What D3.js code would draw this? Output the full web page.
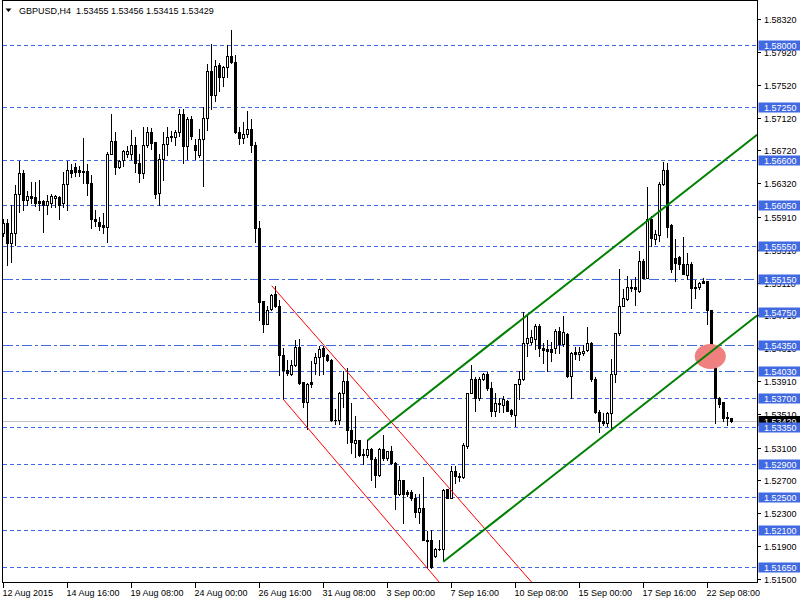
<!DOCTYPE html>
<html><head><meta charset="utf-8">
<script src="https://cdn.jsdelivr.net/npm/d3@7"></script>
<style>
body{margin:0;background:#fff}
svg{display:block}
text{font-family:"Liberation Sans",Arial,sans-serif;font-size:9px}
</style>
</head><body>
<svg id="c" width="800" height="600"></svg>
<script>
// ---------- DATA ----------
const symbol = "GBPUSD,H4";
const lastQuote = [1.53455, 1.53456, 1.53415, 1.53429];

const opens = [
1.5571,1.5583,1.5559,1.5571,1.5619,1.5645,1.5612,1.5617,1.5615,1.5610,
1.5610,1.5605,1.5608,1.5614,1.5615,1.5608,1.5631,1.5648,1.5652,1.5648,
1.5647,1.5647,1.5632,1.5588,1.5585,1.5581,1.5579,1.5668,1.5683,1.5652,
1.5660,1.5668,1.5668,1.5679,1.5657,1.5645,1.5678,1.5695,1.5682,1.5620,
1.5661,1.5680,1.5688,1.5688,1.5694,1.5716,1.5677,1.5710,1.5678,1.5666,
1.5686,1.5711,1.5769,1.5740,1.5776,1.5761,1.5773,1.5787,1.5780,1.5695,
1.5687,1.5692,1.5698,1.5678,1.5577,1.5488,1.5461,1.5479,1.5497,1.5482,
1.5423,1.5405,1.5400,1.5411,1.5433,1.5390,1.5366,1.5390,1.5413,1.5420,
1.5431,1.5423,1.5417,1.5344,1.5343,1.5377,1.5391,1.5331,1.5316,1.5319,
1.5302,1.5301,1.5308,1.5296,1.5277,1.5308,1.5297,1.5306,1.5291,1.5254,
1.5271,1.5256,1.5256,1.5249,1.5231,1.5237,1.5197,1.5197,1.5178,1.5187,
1.5186,1.5259,1.5249,1.5282,1.5276,1.5274,1.5312,1.5377,1.5394,1.5371,
1.5393,1.5400,1.5382,1.5354,1.5363,1.5362,1.5367,1.5356,1.5350,1.5387,
1.5393,1.5437,1.5439,1.5442,1.5458,1.5431,1.5430,1.5430,1.5431,1.5452,
1.5436,1.5448,1.5397,1.5426,1.5424,1.5425,1.5429,1.5437,1.5394,1.5353,
1.5342,1.5340,1.5352,1.5400,1.5449,1.5482,1.5491,1.5506,1.5505,1.5501,
1.5537,1.5517,1.5589,1.5564,1.5569,1.5631,1.5648,1.5581,1.5541,1.5542,
1.5534,1.5520,1.5534,1.5506,1.5505,1.5513,1.5513,1.5477,1.5431,1.5371,
1.5365,1.5347,1.53455];

const highs = [
1.5588,1.5588,1.5605,1.5630,1.5659,1.5648,1.5622,1.5634,1.5634,1.5636,
1.5612,1.5618,1.5619,1.5618,1.5616,1.5646,1.5659,1.5655,1.5657,1.5653,
1.5687,1.5656,1.5642,1.5600,1.5591,1.5596,1.5670,1.5716,1.5694,1.5660,
1.5673,1.5677,1.5697,1.5688,1.5667,1.5700,1.5701,1.5699,1.5682,1.5667,
1.5694,1.5700,1.5696,1.5697,1.5722,1.5722,1.5713,1.5714,1.5686,1.5698,
1.5725,1.5777,1.5802,1.5782,1.5778,1.5775,1.5800,1.5819,1.5788,1.5701,
1.5706,1.5720,1.5710,1.5682,1.5586,1.5488,1.5482,1.5497,1.5507,1.5490,
1.5431,1.5417,1.5417,1.5441,1.5442,1.5390,1.5389,1.5415,1.5425,1.5434,
1.5434,1.5424,1.5418,1.5357,1.5378,1.5403,1.5407,1.5364,1.5349,1.5319,
1.5308,1.5319,1.5309,1.5298,1.5309,1.5325,1.5306,1.5312,1.5293,1.5287,
1.5271,1.5258,1.5258,1.5254,1.5254,1.5274,1.5209,1.5210,1.5188,1.5197,
1.5259,1.5260,1.5288,1.5287,1.5279,1.5316,1.5377,1.5411,1.5396,1.5396,
1.5401,1.5402,1.5390,1.5376,1.5370,1.5373,1.5368,1.5357,1.5387,1.5403,
1.5475,1.5471,1.5453,1.5460,1.5460,1.5437,1.5441,1.5439,1.5455,1.5457,
1.5470,1.5449,1.5427,1.5432,1.5432,1.5435,1.5457,1.5439,1.5396,1.5356,
1.5352,1.5353,1.5418,1.5450,1.5528,1.5503,1.5519,1.5514,1.5518,1.5549,
1.5540,1.5628,1.5592,1.5575,1.5633,1.5658,1.5657,1.5582,1.5564,1.5543,
1.5566,1.5547,1.5536,1.5514,1.5512,1.5516,1.5513,1.5478,1.5433,1.5372,
1.5366,1.5353,1.53456];

const lows = [
1.5568,1.5533,1.5536,1.5557,1.5597,1.5599,1.5606,1.5608,1.5604,1.5599,
1.5572,1.5595,1.5603,1.5603,1.5588,1.5603,1.5599,1.5639,1.5641,1.5641,
1.5632,1.5618,1.5578,1.5580,1.5575,1.5571,1.5561,1.5668,1.5643,1.5651,
1.5653,1.5664,1.5662,1.5646,1.5634,1.5638,1.5676,1.5674,1.5614,1.5605,
1.5636,1.5666,1.5684,1.5679,1.5690,1.5657,1.5661,1.5686,1.5661,1.5664,
1.5629,1.5697,1.5722,1.5732,1.5744,1.5751,1.5761,1.5778,1.5693,1.5680,
1.5681,1.5688,1.5670,1.5561,1.5465,1.5451,1.5460,1.5478,1.5481,1.5398,
1.5369,1.5399,1.5398,1.5409,1.5388,1.5359,1.5333,1.5384,1.5400,1.5398,
1.5400,1.5416,1.5342,1.5339,1.5339,1.5359,1.5316,1.5304,1.5299,1.5300,
1.5290,1.5299,1.5271,1.5262,1.5276,1.5295,1.5295,1.5290,1.5235,1.5252,
1.5218,1.5251,1.5246,1.5225,1.5218,1.5197,1.5165,1.5163,1.5177,1.5185,
1.5173,1.5249,1.5249,1.5267,1.5269,1.5273,1.5310,1.5376,1.5355,1.5368,
1.5392,1.5380,1.5349,1.5349,1.5353,1.5353,1.5354,1.5349,1.5336,1.5369,
1.5392,1.5421,1.5436,1.5430,1.5421,1.5413,1.5403,1.5415,1.5425,1.5425,
1.5434,1.5396,1.5371,1.5418,1.5417,1.5423,1.5428,1.5391,1.5352,1.5329,
1.5337,1.5336,1.5332,1.5390,1.5447,1.5482,1.5490,1.5501,1.5484,1.5500,
1.5516,1.5516,1.5556,1.5558,1.5562,1.5630,1.5567,1.5524,1.5513,1.5528,
1.5521,1.5515,1.5480,1.5492,1.5503,1.5510,1.5460,1.5430,1.5340,1.5360,
1.5342,1.5338,1.53415];

const closes = [
1.5583,1.5559,1.5571,1.5619,1.5645,1.5611,1.5617,1.5614,1.5608,1.5608,
1.5605,1.5610,1.5616,1.5616,1.5606,1.5631,1.5648,1.5645,1.5646,1.5646,
1.5646,1.5632,1.5588,1.5586,1.5580,1.5579,1.5668,1.5683,1.5652,1.5659,
1.5671,1.5671,1.5678,1.5657,1.5645,1.5679,1.5695,1.5681,1.5619,1.5661,
1.5680,1.5688,1.5689,1.5694,1.5716,1.5677,1.5710,1.5690,1.5672,1.5686,
1.5711,1.5769,1.5740,1.5775,1.5761,1.5773,1.5787,1.5780,1.5695,1.5687,
1.5692,1.5698,1.5678,1.5577,1.5487,1.5461,1.5478,1.5496,1.5482,1.5423,
1.5404,1.5401,1.5411,1.5433,1.5389,1.5366,1.5388,1.5388,1.5420,1.5430,
1.5422,1.5417,1.5344,1.5343,1.5376,1.5391,1.5331,1.5317,1.5319,1.5301,
1.5301,1.5308,1.5296,1.5277,1.5308,1.5297,1.5306,1.5291,1.5254,1.5270,
1.5254,1.5253,1.5249,1.5231,1.5237,1.5197,1.5196,1.5165,1.5186,1.5186,
1.5258,1.5249,1.5282,1.5275,1.5274,1.5313,1.5377,1.5394,1.5371,1.5394,
1.5400,1.5382,1.5354,1.5364,1.5364,1.5369,1.5355,1.5351,1.5387,1.5393,
1.5437,1.5443,1.5445,1.5458,1.5431,1.5429,1.5428,1.5426,1.5452,1.5436,
1.5451,1.5397,1.5425,1.5424,1.5426,1.5428,1.5437,1.5393,1.5353,1.5342,
1.5340,1.5352,1.5400,1.5449,1.5482,1.5492,1.5506,1.5504,1.5503,1.5537,
1.5517,1.5589,1.5565,1.5570,1.5631,1.5648,1.5579,1.5528,1.5535,1.5534,
1.5522,1.5534,1.5504,1.5504,1.5511,1.5511,1.5477,1.5431,1.5371,1.5363,
1.5346,1.5346,1.53429];

const timeLabels = ["12 Aug 2015","14 Aug 16:00","19 Aug 08:00","24 Aug 00:00","26 Aug 16:00","31 Aug 08:00",
                    "3 Sep 00:00","7 Sep 16:00","10 Sep 08:00","15 Sep 00:00","17 Sep 16:00","22 Sep 08:00"];
const timeLabelBars = [0,16,32,48,64,80,96,112,128,144,160,176];

const priceTicks = [1.58320,1.57920,1.57520,1.57120,1.56720,1.56320,1.55910,1.55510,1.55110,
                    1.54710,1.54310,1.53910,1.53510,1.53100,1.52700,1.52300,1.51900,1.51500];

const levels      = [1.58000,1.57250,1.56600,1.56050,1.55550,1.55150,1.54750,1.54350,1.54030,1.53700,1.53350,1.52900,1.52500,1.52100,1.51650];
const levelStyles = ["dash","dash","dash","dash","dash","dashdot","dash","dashdot","dashdot","dash","dash","dash","dash","dash","dash"];

// trend channels: [bar index, price]
const redUpper   = [[67.05,1.55072],[132.0,1.51463]];
const redLower   = [[69.95,1.53688],[108.9,1.51463]];
const greenUpper = [[91.05,1.53189],[188.4,1.56911]];
const greenLower = [[109.95,1.51710],[188.4,1.54709]];
const marker     = [176.7, 1.54210];

// ---------- CHART ----------
const svg = d3.select("#c");
const n = opens.length;
const candles = d3.range(n).map(i => ({i, o:opens[i], h:highs[i], l:lows[i], c:closes[i]}));

const x = d3.scaleLinear().domain([0, n-1]).range([3.5, 3.5 + 4*(n-1)]);
const y = d3.scaleLinear().domain([1.51500, 1.58320]).range([578.95, 19.03]);
const fmt = d3.format(".5f");
const AX = 757.5, AY = 582.5;

svg.append("defs").append("clipPath").attr("id","plot")
  .append("rect").attr("x",3).attr("y",1).attr("width",AX-3).attr("height",AY-1);

// level lines
const dashes = {dash:"4,3", dashdot:"10,3,3,3"};
svg.append("g").attr("shape-rendering","crispEdges").selectAll("line").data(levels).join("line")
  .attr("x1",3).attr("x2",AX)
  .attr("y1",d=>Math.round(y(d))+0.5).attr("y2",d=>Math.round(y(d))+0.5)
  .attr("stroke","#4169E1").attr("stroke-width",1)
  .attr("stroke-dasharray",(d,k)=>dashes[levelStyles[k]]);

// current price line
svg.append("line").attr("shape-rendering","crispEdges")
  .attr("x1",3).attr("x2",AX)
  .attr("y1",Math.round(y(lastQuote[3]))+0.5).attr("y2",Math.round(y(lastQuote[3]))+0.5)
  .attr("stroke","#C0C0C0");

// candles
const gC = svg.append("g").attr("shape-rendering","crispEdges");
gC.selectAll("line").data(candles).join("line")
  .attr("x1",d=>x(d.i)).attr("x2",d=>x(d.i))
  .attr("y1",d=>Math.round(y(d.h))).attr("y2",d=>Math.round(y(d.l))+1)
  .attr("stroke","#000").attr("stroke-width",1);
gC.selectAll("rect").data(candles).join("rect").each(function(d){
  const top = Math.round(y(Math.max(d.o,d.c))), bot = Math.round(y(Math.min(d.o,d.c)));
  const s = d3.select(this);
  if (d.c > d.o) {
    s.attr("x",x(d.i)-1).attr("y",top+0.5).attr("width",2).attr("height",Math.max(bot-top,1))
     .attr("fill","#fff").attr("stroke","#000").attr("stroke-width",1);
  } else {
    s.attr("x",x(d.i)-1.5).attr("y",top).attr("width",3).attr("height",Math.max(bot-top+1,1))
     .attr("fill","#000");
  }
});

// objects
const gO = svg.append("g").attr("clip-path","url(#plot)");
gO.append("ellipse").attr("cx",x(marker[0])).attr("cy",y(marker[1]))
  .attr("rx",15.5).attr("ry",12.5).attr("fill","#F08080");
const ln = d3.line().x(d=>x(d[0])).y(d=>y(d[1]));
[redUpper, redLower].forEach(p => gO.append("path").attr("d",ln(p)).attr("fill","none")
  .attr("stroke","#FF0000").attr("stroke-width",1));
[greenUpper, greenLower].forEach(p => gO.append("path").attr("d",ln(p)).attr("fill","none")
  .attr("stroke","#008000").attr("stroke-width",2));

// frame / axes
const gA = svg.append("g").attr("shape-rendering","crispEdges");
gA.append("line").attr("x1",2.5).attr("x2",2.5).attr("y1",0).attr("y2",AY+0.5).attr("stroke","#000");
gA.append("line").attr("x1",2).attr("x2",AX).attr("y1",0.5).attr("y2",0.5).attr("stroke","#000");
gA.append("line").attr("x1",AX).attr("x2",AX).attr("y1",0).attr("y2",AY+0.5).attr("stroke","#000");
gA.append("line").attr("x1",2).attr("x2",AX+0.5).attr("y1",AY).attr("y2",AY).attr("stroke","#000");

// bottom axis
timeLabelBars.forEach((b,k)=>{
  const xx = x(b);
  gA.append("line").attr("x1",xx).attr("x2",xx).attr("y1",AY).attr("y2",AY+5).attr("stroke","#000");
  svg.append("text").attr("x",xx-1).attr("y",595.5).attr("fill","#000").text(timeLabels[k]);
});

// right axis ticks
priceTicks.forEach(v=>{
  const yy = Math.round(y(v))+0.5;
  gA.append("line").attr("x1",AX).attr("x2",AX+3).attr("y1",yy).attr("y2",yy).attr("stroke","#000");
  svg.append("text").attr("x",764).attr("y",yy).attr("dy","0.35em").attr("fill","#000").text(fmt(v));
});

// current price label
{
  const yy = Math.round(y(lastQuote[3]))+0.5;
  svg.append("rect").attr("x",AX+1).attr("y",yy-5.5).attr("width",800-AX).attr("height",10).attr("fill","#000");
  svg.append("text").attr("x",764).attr("y",yy).attr("dy","0.35em").attr("fill","#fff").text(fmt(lastQuote[3]));
}
// level labels
levels.forEach(v=>{
  const yy = Math.round(y(v))+0.5;
  svg.append("rect").attr("x",AX+1).attr("y",yy-5).attr("width",800-AX).attr("height",10).attr("fill","#4169E1");
  svg.append("text").attr("x",764).attr("y",yy).attr("dy","0.35em").attr("fill","#fff").text(fmt(v));
});

// header
svg.append("path").attr("d","M5.5,8.5 L11.5,8.5 L8.5,12 Z").attr("fill","#000");
svg.append("text").attr("x",19).attr("y",14).attr("fill","#000").style("white-space","pre")
  .text(symbol + "  " + lastQuote.map(fmt).join(" "));
</script>
</body></html>
